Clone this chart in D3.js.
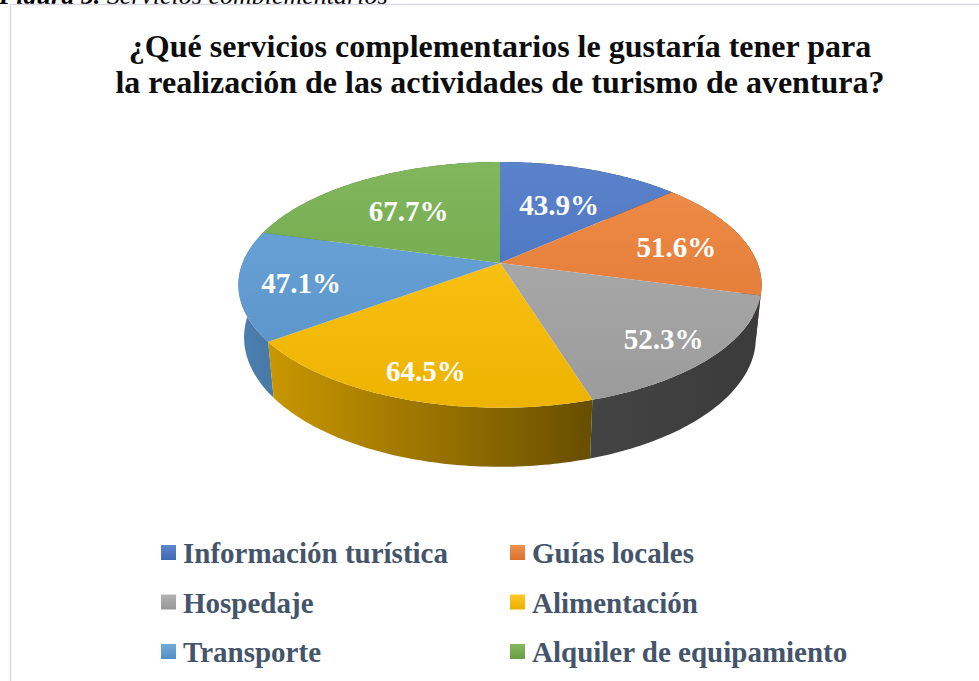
<!DOCTYPE html>
<html lang="es">
<head>
<meta charset="UTF-8">
<title>Servicios complementarios</title>
<style>
  body { margin: 0; background: #fff; }
  text { font-family: "Liberation Serif", "Times New Roman", serif; }
</style>
</head>
<body>
<div id="chart"></div>
<script src="https://cdn.jsdelivr.net/npm/d3@7"></script>
<script>
// data
const categories = ["Información turística", "Guías locales", "Hospedaje", "Alimentación", "Transporte", "Alquiler de equipamiento"];
const values = [43.9, 51.6, 52.3, 64.5, 47.1, 67.7];
const colors = ["#4472C4", "#ED7D31", "#A5A5A5", "#FFC000", "#5B9BD5", "#70AD47"];
const titleLines = ["¿Qué servicios complementarios le gustaría tener para", "la realización de las actividades de turismo de aventura?"];

const width = 979, height = 681;

const svg = d3.select("#chart")
  .append("svg")
    .attr("width", width)
    .attr("height", height);

const defs = svg.append("defs");

// caption, cut off at the top like in the source document
svg.append("text")
  .attr("x", -1)
  .attr("y", 4)
  .style("font-size", "26px")
  .style("font-style", "italic")
  .html('<tspan font-weight="bold">Figura 5.</tspan> Servicios complementarios');

// chart area border
svg.append("rect")
  .attr("x", 10.5).attr("y", 4.5)
  .attr("width", 980).attr("height", 700)
  .attr("fill", "#fff")
  .attr("stroke", "#d9d9e4")
  .attr("stroke-width", 1.5);

// title
svg.append("g").selectAll("text")
  .data(titleLines)
  .join("text")
    .attr("x", 500)
    .attr("y", (d, i) => 57 + i * 36)
    .attr("text-anchor", "middle")
    .style("font-size", "32px")
    .style("font-weight", "bold")
    .style("fill", "#0d0d0d")
    .text(d => d);

// simple perspective projection of a tilted disc
const cx = 500, cy = 263, f = 1282, D = 4.98;
const phi = Math.asin(0.462);
const sp = Math.sin(phi), cp = Math.cos(phi);
const thick = 0.232;

function project(theta, r, yw) {
  const X = r * Math.sin(theta), Z = r * Math.cos(theta);
  const yc = yw * cp + Z * sp;
  const zc = D + Z * cp - yw * sp;
  return [cx + f * X / zc, cy - f * yc / zc];
}

function arcPoints(a0, a1, r, yw) {
  const n = Math.max(2, Math.ceil(Math.abs(a1 - a0) / (Math.PI / 180)));
  return d3.range(n + 1).map(i => project(a0 + (a1 - a0) * i / n, r, yw));
}

const pie = d3.pie().sort(null).value(d => d)(values);
const line = d3.line();

// gradients
pie.forEach((p, i) => {
  const c = colors[i];
  const g = defs.append("linearGradient")
    .attr("id", "top" + i)
    .attr("gradientUnits", "userSpaceOnUse")
    .attr("x1", 0).attr("y1", 160).attr("x2", 0).attr("y2", 410);
  g.append("stop").attr("offset", 0).attr("stop-color", d3.interpolateRgb(c, "#fff")(0.12));
  g.append("stop").attr("offset", 1).attr("stop-color", d3.rgb(c).darker(0.2));

  const shade = k => { const r = d3.rgb(c); return d3.rgb(r.r * k, r.g * k, r.b * k).formatHex(); };
  const w = defs.append("linearGradient")
    .attr("id", "wall" + i)
    .attr("gradientUnits", "userSpaceOnUse")
    .attr("x1", 240).attr("y1", 0).attr("x2", 762).attr("y2", 0);
  [[0, 0.82], [0.5, 0.52], [0.66, 0.41], [1, 0.36]].forEach(s => {
    w.append("stop").attr("offset", s[0]).attr("stop-color", shade(s[1]));
  });

  const l = defs.append("linearGradient")
    .attr("id", "leg" + i)
    .attr("x1", 0).attr("y1", 0).attr("x2", 0).attr("y2", 1);
  l.append("stop").attr("offset", 0).attr("stop-color", d3.interpolateRgb(c, "#fff")(0.15));
  l.append("stop").attr("offset", 1).attr("stop-color", d3.rgb(c).darker(0.25));
});

// outer walls, far ones first
const walls = pie.map((p, i) => ({p, i}))
  .sort((a, b) => Math.cos((b.p.startAngle + b.p.endAngle) / 2) - Math.cos((a.p.startAngle + a.p.endAngle) / 2));

svg.append("g").selectAll("path")
  .data(walls)
  .join("path")
    .attr("d", d => {
      const top = arcPoints(d.p.startAngle, d.p.endAngle, 1, 0);
      const bot = arcPoints(d.p.endAngle, d.p.startAngle, 1, -thick);
      return line(top.concat(bot)) + "Z";
    })
    .attr("fill", d => `url(#wall${d.i})`);

// top faces
svg.append("g").selectAll("path")
  .data(pie)
  .join("path")
    .attr("d", d => line([project(0, 0, 0)].concat(arcPoints(d.startAngle, d.endAngle, 1, 0))) + "Z")
    .attr("fill", (d, i) => `url(#top${i})`);

// value labels
svg.append("g").selectAll("text")
  .data(pie)
  .join("text")
    .attr("transform", d => {
      const m = (d.startAngle + d.endAngle) / 2;
      const r = 0.6 + 0.1 * (1 - Math.cos(m)) + 0.05 * Math.sin(m) ** 2;
      const pt = project(m, r, 0);
      return `translate(${pt[0]},${pt[1]})`;
    })
    .attr("text-anchor", "middle")
    .attr("dy", "0.45em")
    .style("font-size", "29px")
    .style("font-weight", "bold")
    .style("fill", "#fff")
    .text(d => d.data.toFixed(1) + "%");

// legend
const legend = svg.append("g").selectAll("g")
  .data(categories)
  .join("g")
    .attr("transform", (d, i) => `translate(${i % 2 === 0 ? 161 : 510}, ${553 + Math.floor(i / 2) * 49.5})`);

legend.append("rect")
  .attr("x", 0).attr("y", -8)
  .attr("width", 15).attr("height", 15)
  .attr("fill", (d, i) => `url(#leg${i})`);

legend.append("text")
  .attr("x", 22)
  .attr("y", 10)
  .style("font-size", "29px")
  .style("font-weight", "bold")
  .style("fill", "#44546A")
  .text(d => d);
</script>
</body>
</html>
